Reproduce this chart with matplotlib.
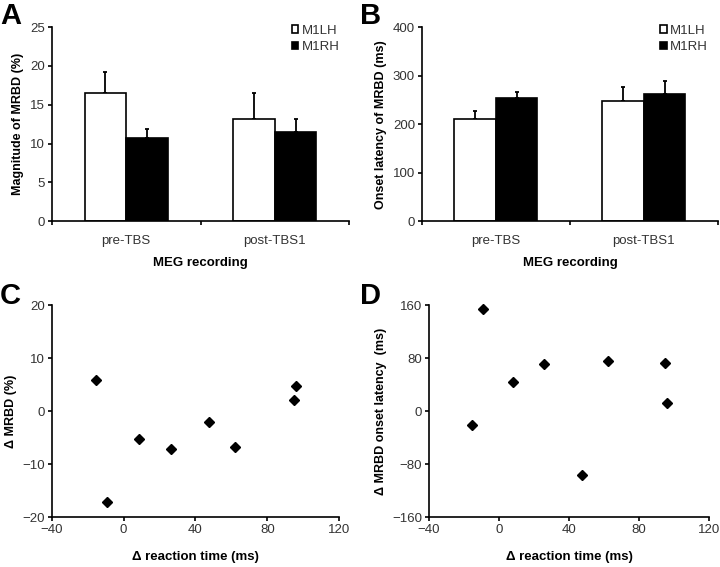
import matplotlib.pyplot as plt
import numpy as np

plt.rcParams['font.family'] = ['Liberation Sans', 'DejaVu Sans']

# bar data
groups = ['pre-TBS', 'post-TBS1']
series = ['M1LH', 'M1RH']
mag_lh = [16.5, 13.2]
mag_rh = [10.7, 11.5]
mag_lh_err = [2.7, 3.3]
mag_rh_err = [1.2, 1.7]
lat_lh = [210, 248]
lat_rh = [253, 263]
lat_lh_err = [18, 28]
lat_rh_err = [14, 27]

# scatter data
rt_c = [-15.2, -9.1, 8.6, 26.3, 47.7, 61.9, 94.6, 96.1]
mrbd_c = [5.9, -17.1, -5.2, -7.1, -2.0, -6.7, 2.0, 4.7]
rt_d = [-15.4, -9.5, 8.2, 25.7, 47.5, 62.3, 94.7, 95.8]
lat_d = [-21.3, 154.4, 44, 70.6, -97, 75.6, 73, 12.3]

tick_col = '#333333'

fig = plt.figure(figsize=(7.2, 5.67), dpi=100)
axA = fig.add_axes([0.072, 0.610, 0.413, 0.342])
axB = fig.add_axes([0.586, 0.610, 0.411, 0.342])
axC = fig.add_axes([0.072, 0.088, 0.399, 0.374])
axD = fig.add_axes([0.596, 0.088, 0.389, 0.374])


def style(ax):
    ax.spines['top'].set_visible(False)
    ax.spines['right'].set_visible(False)
    ax.spines['left'].set_linewidth(1.2)
    ax.spines['bottom'].set_linewidth(1.2)
    ax.tick_params(axis='both', direction='out', length=3, width=1.2,
                   labelsize=9.5, colors='black', labelcolor=tick_col, pad=2)


def bars(ax, lh, rh, lh_err, rh_err, ylim, yticks, ylabel):
    x = np.arange(len(groups))
    w = 0.28
    ax.bar(x - w / 2, lh, w, color='white', edgecolor='black', linewidth=1.2,
           label=series[0], zorder=2)
    ax.bar(x + w / 2, rh, w, color='black', edgecolor='black', linewidth=1.2,
           label=series[1], zorder=2)
    ax.errorbar(x - w / 2, lh, yerr=[np.zeros(len(lh)), lh_err], fmt='none',
                ecolor='black', elinewidth=1.3, capsize=1.5, capthick=1.3, zorder=1)
    ax.errorbar(x + w / 2, rh, yerr=[np.zeros(len(rh)), rh_err], fmt='none',
                ecolor='black', elinewidth=1.3, capsize=1.5, capthick=1.3, zorder=1)
    style(ax)
    ax.set_xlim(-0.5, 1.5)
    ax.set_ylim(*ylim)
    ax.set_yticks(yticks)
    ax.set_xticks([-0.5, 0.5, 1.5])
    ax.set_xticklabels([])
    ax.set_xticks(x, minor=True)
    ax.set_xticklabels(groups, minor=True)
    ax.tick_params(axis='x', which='minor', length=0, labelsize=9.5,
                   labelcolor=tick_col, pad=10)
    ax.set_xlabel('MEG recording', fontsize=9.5, fontweight='bold', labelpad=7)
    ax.set_ylabel(ylabel, fontsize=9, fontweight='bold', labelpad=4)
    ax.legend(loc='upper right', bbox_to_anchor=(0.985, 1.04), frameon=False,
              fontsize=9.5, handlelength=0.5, handleheight=0.5, handletextpad=0.25,
              labelspacing=0.35, borderaxespad=0.0, labelcolor=tick_col)


def scatter(ax, x, y, ylim, yticks, ylabel):
    ax.plot(x, y, 'D', color='black', markersize=5, linestyle='none', clip_on=False)
    style(ax)
    ax.set_xlim(-40, 120)
    ax.set_xticks([-40, 0, 40, 80, 120])
    ax.set_ylim(*ylim)
    ax.set_yticks(yticks)
    ax.set_xlabel('Δ reaction time (ms)', fontsize=9.5, fontweight='bold', labelpad=11)
    ax.set_ylabel(ylabel, fontsize=9, fontweight='bold', labelpad=4)


bars(axA, mag_lh, mag_rh, mag_lh_err, mag_rh_err, (0, 25), [0, 5, 10, 15, 20, 25],
     'Magnitude of MRBD (%)')
bars(axB, lat_lh, lat_rh, lat_lh_err, lat_rh_err, (0, 400), [0, 100, 200, 300, 400],
     'Onset latency of MRBD (ms)')
scatter(axC, rt_c, mrbd_c, (-20, 20), [-20, -10, 0, 10, 20], 'Δ MRBD (%)')
scatter(axD, rt_d, lat_d, (-160, 160), [-160, -80, 0, 80, 160],
        'Δ MRBD onset latency  (ms)')

for letter, (px, py) in zip('ABCD', [(0, 2), (360, 2), (0, 282), (360, 282)]):
    fig.text(px / 720, 1 - py / 567, letter, fontsize=21, fontweight='bold',
             va='top', ha='left')

fig.savefig('out.png', dpi=100)
